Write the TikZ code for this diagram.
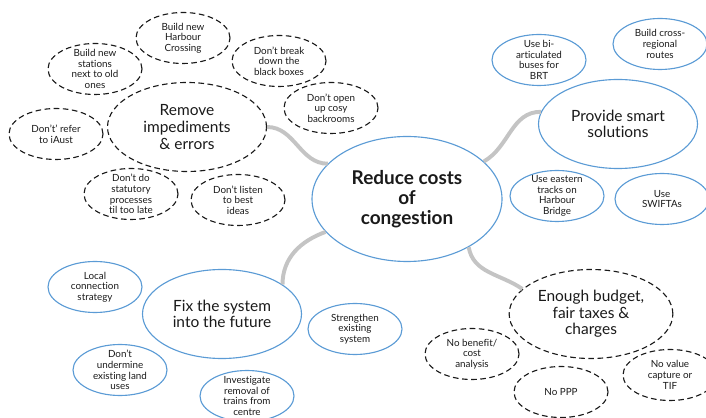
\documentclass[tikz,border=0pt]{standalone}
\usepackage{fontspec}
\setmainfont{Lato}[Ligatures=NoCommon]
\usetikzlibrary{shapes.geometric}
\definecolor{ideablue}{HTML}{5B9BD5}
\definecolor{inkblack}{HTML}{1A1A1A}
\definecolor{linkgrey}{HTML}{C4C4C4}

\begin{document}
\begin{tikzpicture}[auto,
  every node/.style={text=inkblack},
  hub/.style={ellipse, draw=ideablue, line width=0.8pt, minimum width=4.75cm, minimum height=3.125cm, align=center, font=\fontsize{13.5}{14.4}\selectfont\bfseries},
  goal/.style={ellipse, line width=0.8pt, minimum width=3.975cm, minimum height=2.225cm, align=center, font=\fontsize{11}{11.8}\selectfont},
  idea/.style={ellipse, line width=0.8pt, minimum width=2.35cm, minimum height=1.275cm, inner xsep=0pt, inner ysep=-3pt, align=center, font=\fontsize{7}{7.6}\selectfont},
  solidline/.style={draw=ideablue},
  dashline/.style={draw=inkblack, dash pattern=on 4pt off 2.5pt},
  link/.style={draw=linkgrey, line width=2.8pt}]
\useasboundingbox (0,0) rectangle (17.65,10.425);
\node[hub] (0) at (10.175,5.45)  {Reduce costs\\of\\congestion};
\node[goal,dashline] (1) at (4.675,7.25)  {Remove\\impediments\\\& errors};
\node[idea,dashline] (2) at (4.575,9.475)  {Build new\\Harbour\\Crossing};
\node[idea,dashline] (3) at (2.375,8.7)  {Build new\\stations\\next to old\\ones};
\node[idea,dashline] (4) at (6.975,8.9)  {Don't break\\down the\\black boxes};
\node[idea,dashline] (5) at (8.275,7.725)  {Don't open\\up cosy\\backrooms};
\node[idea,dashline] (6) at (1.4,7.075)  {Don't' refer\\to iAust};
\node[idea,dashline] (7) at (3.275,5.575)  {Don't do\\statutory\\processes\\til too late};
\node[idea,dashline] (8) at (5.95,5.425)  {Don't listen\\to best\\ideas};
\node[goal,solidline] (9) at (15.45,7.325)  {Provide smart\\solutions};
\node[idea,solidline] (10) at (13.475,8.925)  {Use bi-\\articulated\\buses for\\BRT};
\node[idea,solidline] (11) at (16.5,9.325)  {Build cross-\\regional\\routes};
\node[idea,solidline] (12) at (13.925,5.525)  {Use eastern\\tracks on\\Harbour\\Bridge};
\node[idea,solidline] (13) at (16.55,5.45)  {Use\\SWIFTAs};
\node[goal,solidline] (14) at (5.55,2.575)  {Fix the system\\into the future};
\node[idea,solidline] (15) at (2.375,3.25)  {Local\\connection\\strategy};
\node[idea,solidline] (16) at (3.0,1.175)  {Don't\\undermine\\existing land\\uses};
\node[idea,solidline] (17) at (6.175,0.525)  {Investigate\\removal of\\trains from\\centre};
\node[idea,solidline] (18) at (8.875,2.2)  {Strengthen\\existing\\system};
\node[goal,dashline] (19) at (14.775,2.575)  {Enough budget,\\fair taxes \&\\charges};
\node[idea,dashline] (20) at (11.8,1.575)  {No benefit/\\cost\\analysis};
\node[idea,dashline] (21) at (14.025,0.625)  {No PPP};
\node[idea,dashline] (22) at (16.75,1.05)  {No value\\capture or\\TIF};
\draw[link]   (0.156) to[out=180,in=0] (1.east);
\draw[link]   (0.26) to[out=30,in=180] (9.171);
\draw[link]   (0.202) to[out=200,in=90] (14.26);
\draw[link]   (0.322) to[out=-80,in=145] (19.160);
\end{tikzpicture}
\end{document}
